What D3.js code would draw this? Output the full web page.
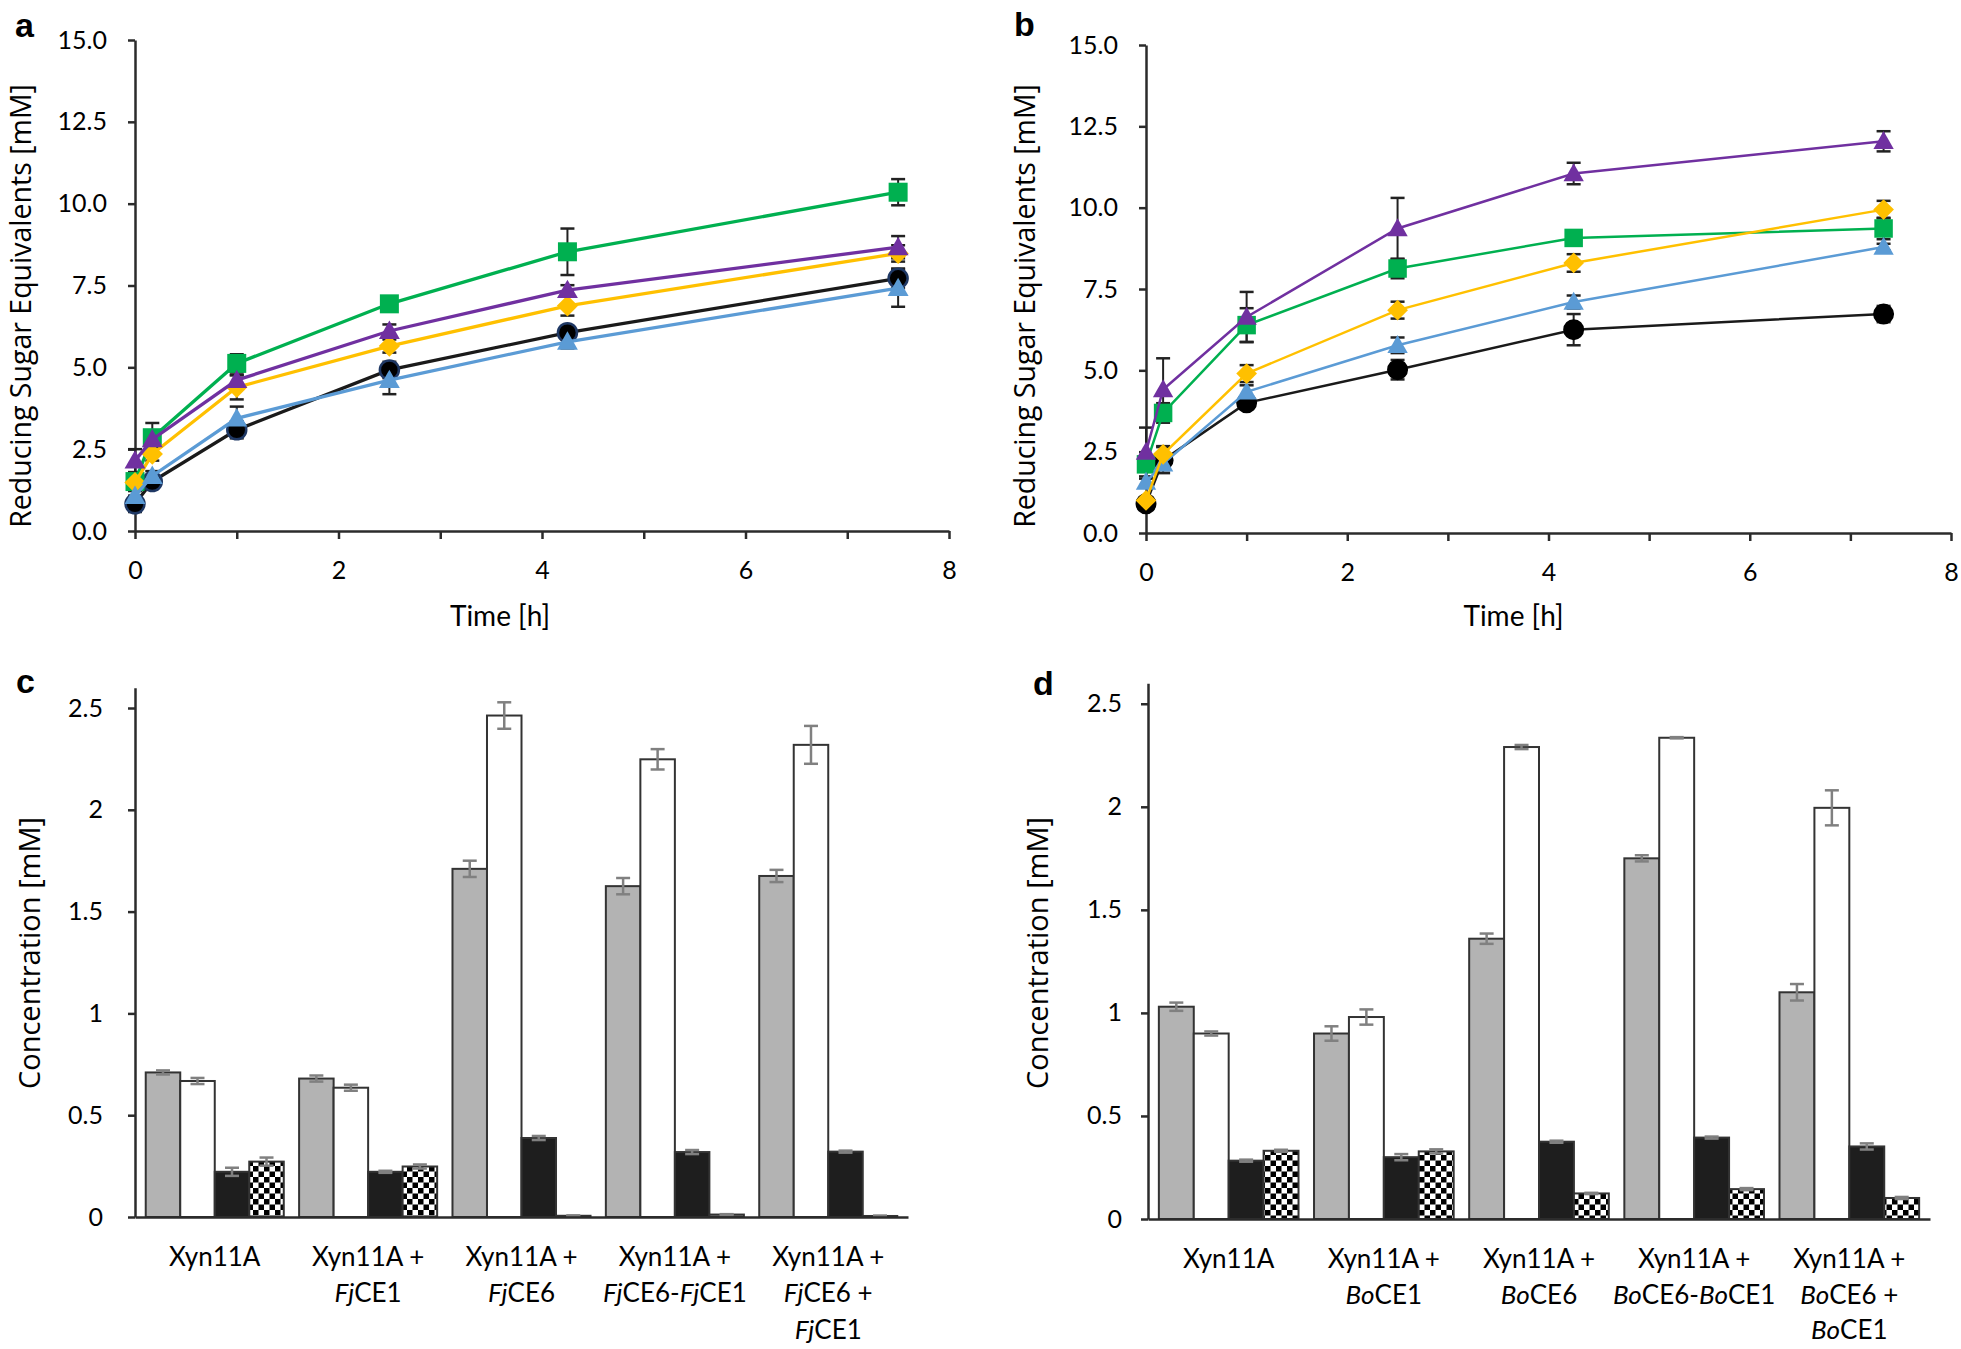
<!DOCTYPE html>
<html><head><meta charset="utf-8">
<script src="https://cdn.jsdelivr.net/npm/d3@7"></script>
<style>
html,body{margin:0;padding:0;background:#fff;}
svg{display:block;}
</style></head><body>
<svg id="chart" width="1961" height="1349"></svg>
<script>
// ---------------- DATA ----------------
// Time courses (h)
const timesA = [0, 0.17, 1, 2.5, 4.25, 7.5];
const timesB = [0, 0.17, 1, 2.5, 4.25, 7.33];
const timeTicks = [0, 1, 2, 3, 4, 5, 6, 7, 8];
const sugarTicks = [0, 2.5, 5, 7.5, 10, 12.5, 15];

// Panel a – reducing sugar equivalents (mM)
const aBlack     = [0.83, 1.51, 3.09, 4.92, 6.06, 7.72];
const aBlackErr  = [0.25, 0.15, 0.26, 0.25, 0.20, 0.30];
const aBlue      = [1.07, 1.68, 3.44, 4.61, 5.78, 7.42];
const aBlueErr   = [0.15, 0.15, 0.36, 0.43, 0.20, 0.57];
const aYellow    = [1.48, 2.35, 4.39, 5.65, 6.88, 8.48];
const aYellowErr = [0.15, 0.20, 0.37, 0.20, 0.30, 0.25];
const aGreen     = [1.51, 2.85, 5.12, 6.94, 8.53, 10.35];
const aGreenErr  = [0.20, 0.45, 0.28, 0.15, 0.71, 0.40];
const aPurple    = [2.15, 2.80, 4.61, 6.11, 7.36, 8.67];
const aPurpleErr = [0.35, 0.20, 0.15, 0.20, 0.15, 0.34];

// Panel b – reducing sugar equivalents (mM)
const bBlack     = [0.90, 2.24, 4.00, 5.02, 6.25, 6.73];
const bBlackErr  = [0.15, 0.40, 0.15, 0.30, 0.48, 0.25];
const bBlue      = [1.57, 2.13, 4.34, 5.77, 7.10, 8.79];
const bBlueErr   = [0.10, 0.20, 0.20, 0.24, 0.20, 0.10];
const bYellow    = [1.00, 2.42, 4.90, 6.85, 8.30, 9.94];
const bYellowErr = [0.10, 0.25, 0.26, 0.26, 0.27, 0.27];
const bGreen     = [2.11, 3.69, 6.39, 8.13, 9.07, 9.36];
const bGreenErr  = [0.20, 0.30, 0.52, 0.30, 0.15, 0.33];
const bPurple    = [2.49, 4.41, 6.64, 9.36, 11.05, 12.04];
const bPurpleErr = [0.75, 0.96, 0.77, 0.94, 0.33, 0.31];

// Bar panels
const concTicks = [0, 0.5, 1, 1.5, 2, 2.5];
const barSeries = ["gray", "white", "black", "checker"];
const cCategories = [
  ["Xyn11A"],
  ["Xyn11A +", "<i>Fj</i>CE1"],
  ["Xyn11A +", "<i>Fj</i>CE6"],
  ["Xyn11A +", "<i>Fj</i>CE6-<i>Fj</i>CE1"],
  ["Xyn11A +", "<i>Fj</i>CE6 +", "<i>Fj</i>CE1"]
];
const dCategories = [
  ["Xyn11A"],
  ["Xyn11A +", "<i>Bo</i>CE1"],
  ["Xyn11A +", "<i>Bo</i>CE6"],
  ["Xyn11A +", "<i>Bo</i>CE6-<i>Bo</i>CE1"],
  ["Xyn11A +", "<i>Bo</i>CE6 +", "<i>Bo</i>CE1"]
];
const cGray       = [0.710, 0.680, 1.710, 1.625, 1.675];
const cGrayErr    = [0.010, 0.015, 0.040, 0.040, 0.030];
const cWhite      = [0.668, 0.635, 2.463, 2.248, 2.319];
const cWhiteErr   = [0.015, 0.015, 0.065, 0.050, 0.093];
const cBlack      = [0.222, 0.222, 0.388, 0.319, 0.321];
const cBlackErr   = [0.020, 0.005, 0.010, 0.010, 0.005];
const cChecker    = [0.272, 0.248, 0.006, 0.012, 0.005];
const cCheckerErr = [0.020, 0.010, 0.002, 0.002, 0.002];

const dGray       = [1.030, 0.900, 1.360, 1.750, 1.100];
const dGrayErr    = [0.020, 0.035, 0.025, 0.015, 0.040];
const dWhite      = [0.900, 0.980, 2.290, 2.335, 1.995];
const dWhiteErr   = [0.010, 0.037, 0.010, 0.003, 0.085];
const dBlack      = [0.283, 0.300, 0.375, 0.395, 0.352];
const dBlackErr   = [0.005, 0.015, 0.005, 0.005, 0.015];
const dChecker    = [0.331, 0.328, 0.124, 0.145, 0.102];
const dCheckerErr = [0.005, 0.010, 0.003, 0.005, 0.005];

// ---------------- STYLE ----------------
const AX = "#2b2b2b";
const TICK_FONT = "Lato, 'Open Sans', sans-serif";
const TITLE_FONT = "'Open Sans', 'Noto Sans', sans-serif";
const styles = {
  black:  {color: "#000000", line: "#1a1a1a", marker: "circle"},
  blue:   {color: "#5b9bd5", line: "#5b9bd5", marker: "triangle"},
  yellow: {color: "#ffc000", line: "#ffc000", marker: "diamond"},
  green:  {color: "#00b050", line: "#00b050", marker: "square"},
  purple: {color: "#7030a0", line: "#7030a0", marker: "triangle"}
};

const svg = d3.select("#chart");
svg.append("rect").attr("width", 1961).attr("height", 1349).attr("fill", "#fff");

// checker pattern
const defs = svg.append("defs");
const pat = defs.append("pattern").attr("id", "checker")
  .attr("patternUnits", "userSpaceOnUse").attr("width", 11).attr("height", 11);
pat.append("rect").attr("width", 11).attr("height", 11).attr("fill", "#fff");
pat.append("rect").attr("width", 5.5).attr("height", 5.5).attr("fill", "#000");
pat.append("rect").attr("x", 5.5).attr("y", 5.5).attr("width", 5.5).attr("height", 5.5).attr("fill", "#000");

function styleAxis(g, width) {
  g.select(".domain").attr("stroke", AX).attr("stroke-width", width);
  g.selectAll(".tick line").attr("stroke", AX).attr("stroke-width", width);
  g.selectAll(".tick text").attr("fill", "#000").style("font-family", TICK_FONT).style("font-size", "25px");
}

function markerPath(type, s) {
  const p = d3.path();
  if (type === "square") { p.rect(-s/2, -s/2, s, s); }
  else if (type === "diamond") { const h = s*0.56; p.moveTo(0,-h); p.lineTo(h,0); p.lineTo(0,h); p.lineTo(-h,0); p.closePath(); }
  else if (type === "triangle") { const w = s*0.55; p.moveTo(0,-s*0.55); p.lineTo(w, s*0.42); p.lineTo(-w, s*0.42); p.closePath(); }
  else { p.arc(0, 0, s/2, 0, 2*Math.PI); }
  return p.toString();
}

function linePanel(o) {
  const x = d3.scaleLinear().domain([0, 8]).range([o.x0, o.x1]);
  const y = d3.scaleLinear().domain([0, 15]).range([o.y0, o.y1]);
  const g = svg.append("g");

  const gx = g.append("g").attr("transform", `translate(0,${o.y0})`)
    .call(d3.axisBottom(x).tickValues(timeTicks).tickSize(8).tickSizeOuter(0).tickPadding(22)
      .tickFormat(d => d % 2 === 0 ? d : ""));
  styleAxis(gx, 2.5);
  const gy = g.append("g").attr("transform", `translate(${o.x0},0)`)
    .call(d3.axisLeft(y).tickValues(sugarTicks).tickSize(7).tickSizeOuter(0).tickPadding(o.yPad)
      .tickFormat(d3.format(".1f")));
  styleAxis(gy, 2.5);

  // error bars first
  o.series.forEach(s => {
    const eg = g.append("g");
    s.values.forEach((v, i) => {
      const cx = x(o.times[i]), e = s.err[i];
      eg.append("line").attr("x1", cx).attr("x2", cx).attr("y1", y(v - e)).attr("y2", y(v + e))
        .attr("stroke", "#222").attr("stroke-width", 2);
      [v - e, v + e].forEach(t => eg.append("line").attr("x1", cx - 7).attr("x2", cx + 7)
        .attr("y1", y(t)).attr("y2", y(t)).attr("stroke", "#222").attr("stroke-width", 2.5));
    });
  });
  // lines & markers
  o.series.forEach(s => {
    const st = styles[s.key];
    const pts = s.values.map((v, i) => [o.times[i], v]);
    g.append("path").datum(pts)
      .attr("d", d3.line().x(d => x(d[0])).y(d => y(d[1])))
      .attr("fill", "none").attr("stroke", st.line).attr("stroke-width", o.lw);
    g.selectAll(null).data(pts).enter().append("path")
      .attr("transform", d => `translate(${x(d[0])},${y(d[1])})`)
      .attr("d", markerPath(st.marker, o.ms))
      .attr("fill", st.color)
      .attr("stroke", st.marker === "circle" ? o.circleStroke : "none")
      .attr("stroke-width", 2.5);
  });

  g.append("text").attr("x", (o.x0 + o.x1) / 2 + o.titleDx).attr("y", 626)
    .attr("text-anchor", "middle").style("font-family", TICK_FONT).style("font-size", "28px")
    .text("Time [h]");
  g.append("text").attr("transform", `translate(${o.titleX},306) rotate(-90)`)
    .attr("text-anchor", "middle").style("font-family", TITLE_FONT).style("font-size", "28.5px")
    .text("Reducing Sugar Equivalents [mM]");
}

function appendRich(textSel, str) {
  str.split(/(<i>.*?<\/i>)/).filter(s => s.length).forEach(seg => {
    const it = seg.startsWith("<i>");
    textSel.append("tspan").text(it ? seg.slice(3, -4) : seg).style("font-style", it ? "italic" : "normal");
  });
}

function barPanel(o) {
  const x = d3.scaleBand().domain(o.categories.map((c, i) => i)).range([o.x0, o.x1])
    .paddingInner(0.1).paddingOuter(0.07);
  const xs = d3.scaleBand().domain(barSeries).range([0, x.bandwidth()]);
  const y = d3.scaleLinear().domain([0, 2.6]).range([o.y0, o.yTop]);
  const g = svg.append("g");

  const gy = g.append("g").attr("transform", `translate(${o.x0},0)`)
    .call(d3.axisLeft(y).tickValues(concTicks).tickSize(7).tickSizeOuter(0).tickPadding(o.yPad)
      .tickFormat(d => String(d)));
  styleAxis(gy, 2.5);

  const fills = {gray: "#b3b3b3", white: "#ffffff", black: "#1e1e1e", checker: "url(#checker)"};
  barSeries.forEach((s, si) => {
    o.values[si].forEach((v, i) => {
      const bx = x(i) + xs(s);
      g.append("rect").attr("x", bx).attr("y", y(v)).attr("width", xs.bandwidth()).attr("height", y(0) - y(v))
        .attr("fill", fills[s]).attr("stroke", "#333").attr("stroke-width", 2);
    });
  });
  barSeries.forEach((s, si) => {
    o.values[si].forEach((v, i) => {
      const cx = x(i) + xs(s) + xs.bandwidth() / 2, e = o.errs[si][i];
      g.append("line").attr("x1", cx).attr("x2", cx).attr("y1", y(v - e)).attr("y2", y(v + e))
        .attr("stroke", "#808080").attr("stroke-width", 2.5);
      [v - e, v + e].forEach(t => g.append("line").attr("x1", cx - 7).attr("x2", cx + 7)
        .attr("y1", y(t)).attr("y2", y(t)).attr("stroke", "#808080").attr("stroke-width", 2.5));
    });
  });
  // x axis line
  const gx = g.append("g").attr("transform", `translate(0,${o.y0})`)
    .call(d3.axisBottom(x).tickSize(0).tickFormat(""));
  gx.select(".domain").attr("stroke", AX).attr("stroke-width", 2.5);

  o.categories.forEach((lines, i) => {
    lines.forEach((ln, li) => {
      const t = g.append("text").attr("x", x(i) + x.bandwidth() / 2).attr("y", o.labelY[li])
        .attr("text-anchor", "middle").style("font-family", TICK_FONT).style("font-size", "26px");
      appendRich(t, ln);
    });
  });
  g.append("text").attr("transform", `translate(${o.titleX},953) rotate(-90)`)
    .attr("text-anchor", "middle").style("font-family", TITLE_FONT).style("font-size", "29px")
    .text("Concentration [mM]");
}

linePanel({
  x0: 135, x1: 949, y0: 531, y1: 40, yPad: 21, lw: 3.3, ms: 19, titleX: 31, titleDx: -42,
  times: timesA, circleStroke: "#1f3864",
  series: [
    {key: "black", values: aBlack, err: aBlackErr},
    {key: "green", values: aGreen, err: aGreenErr},
    {key: "yellow", values: aYellow, err: aYellowErr},
    {key: "blue", values: aBlue, err: aBlueErr},
    {key: "purple", values: aPurple, err: aPurpleErr}
  ]
});
linePanel({
  x0: 1146, x1: 1951, y0: 533, y1: 45, yPad: 21, lw: 2.5, ms: 18.5, titleX: 1035, titleDx: -35,
  times: timesB, circleStroke: "#000",
  series: [
    {key: "black", values: bBlack, err: bBlackErr},
    {key: "green", values: bGreen, err: bGreenErr},
    {key: "blue", values: bBlue, err: bBlueErr},
    {key: "yellow", values: bYellow, err: bYellowErr},
    {key: "purple", values: bPurple, err: bPurpleErr}
  ]
});
barPanel({
  x0: 135, x1: 908, y0: 1217, yTop: 1217 - 2.6 * 203.6, yPad: 25, titleX: 40,
  categories: cCategories, labelY: [1266, 1302, 1339],
  values: [cGray, cWhite, cBlack, cChecker], errs: [cGrayErr, cWhiteErr, cBlackErr, cCheckerErr]
});
barPanel({
  x0: 1148, x1: 1930, y0: 1219, yTop: 1219 - 2.6 * 206.1, yPad: 19, titleX: 1048,
  categories: dCategories, labelY: [1268, 1304, 1339],
  values: [dGray, dWhite, dBlack, dChecker], errs: [dGrayErr, dWhiteErr, dBlackErr, dCheckerErr]
});

// panel letters
[["a", 15, 37], ["b", 1014, 36], ["c", 16, 693], ["d", 1033, 695]].forEach(([t, lx, ly]) => {
  svg.append("text").attr("x", lx).attr("y", ly).text(t)
    .style("font-family", "'Liberation Sans', Arial, sans-serif").style("font-weight", "bold").style("font-size", "34px");
});
</script>
</body></html>
